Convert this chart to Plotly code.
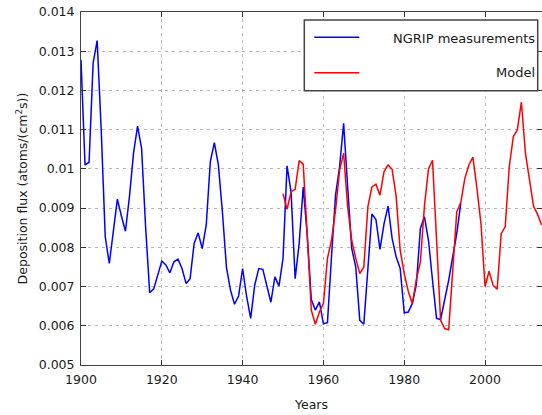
import plotly.graph_objects as go

# ---- data ----
ngrip_years = list(range(1900, 1995))
ngrip_flux = [
    0.01278, 0.0101, 0.01017, 0.0127, 0.01327, 0.0110, 0.00827, 0.00759, 0.0084, 0.00923,
    0.0088, 0.00841, 0.0093, 0.0104, 0.01109, 0.01052, 0.0085, 0.00684, 0.00694, 0.00729,
    0.00765, 0.00755, 0.00735, 0.00763, 0.0077, 0.00746, 0.00708, 0.0072, 0.0081, 0.00837,
    0.00797, 0.00857, 0.01018, 0.01067, 0.0101, 0.0089, 0.00749, 0.00691, 0.00655, 0.00676,
    0.00746, 0.00674, 0.00619, 0.00704, 0.00746, 0.00744, 0.00704, 0.0066, 0.00725, 0.00701,
    0.00772, 0.01008, 0.0094, 0.0072, 0.0081, 0.00954, 0.0083, 0.00667, 0.0064, 0.00661,
    0.00605, 0.00608, 0.00776, 0.00933, 0.01005, 0.01116, 0.00954, 0.00797, 0.0075, 0.00614,
    0.00604, 0.0074, 0.00885, 0.00871, 0.00795, 0.0086, 0.00905, 0.00823, 0.00776, 0.00746,
    0.00633, 0.00635, 0.00657, 0.00705, 0.00848, 0.00878, 0.00818, 0.00716, 0.00619, 0.00616,
    0.00665, 0.00716, 0.00776, 0.00835, 0.00912,
]

model_years = list(range(1950, 2015))
model_flux = [
    0.00937, 0.00897, 0.00942, 0.00948, 0.01021, 0.01012, 0.0083, 0.0064, 0.00604, 0.00635,
    0.00657, 0.00772, 0.00818, 0.00895, 0.00997, 0.0104, 0.00903, 0.00818, 0.00772, 0.00733,
    0.0075, 0.00903, 0.00954, 0.00961, 0.00933, 0.00993, 0.0101, 0.00999, 0.0093, 0.00793,
    0.00733, 0.00688, 0.00656, 0.00718, 0.00763, 0.00905, 0.0100, 0.01022, 0.0082, 0.00614,
    0.00593, 0.0059, 0.0074, 0.0089, 0.00914, 0.00976, 0.0101, 0.0103, 0.0095, 0.0086,
    0.0070, 0.00739, 0.00703, 0.00693, 0.00835, 0.00853, 0.01006, 0.01082, 0.011, 0.0117,
    0.0104, 0.0097, 0.00905, 0.00884, 0.00857,
]

x_ticks = [1900, 1920, 1940, 1960, 1980, 2000]
x_tick_labels = ["1900", "1920", "1940", "1960", "1980", "2000"]
y_ticks = [0.005, 0.006, 0.007, 0.008, 0.009, 0.010, 0.011, 0.012, 0.013, 0.014]
y_tick_labels = ["0.005", "0.006", "0.007", "0.008", "0.009", "0.01",
                 "0.011", "0.012", "0.013", "0.014"]
series_names = ["NGRIP measurements", "Model"]

fig = go.Figure()
fig.add_trace(go.Scatter(x=ngrip_years, y=ngrip_flux, mode="lines", name=series_names[0],
                         line=dict(color="#0000ff", width=1.5), showlegend=False))
fig.add_trace(go.Scatter(x=model_years, y=model_flux, mode="lines", name=series_names[1],
                         line=dict(color="#ff0000", width=1.5), showlegend=False))

grid_kw = dict(showgrid=True, gridcolor="#b8b8b8", griddash="3px,4px", gridwidth=1,
               showline=True, linecolor="#444444", linewidth=1, mirror="allticks",
               ticks="inside", ticklen=5, tickcolor="#333333", tickwidth=1, zeroline=False,
               automargin=False, tickfont=dict(size=12.5))

fig.update_xaxes(range=[1900, 2014.1], tickvals=x_ticks, ticktext=x_tick_labels,
                 title=dict(text="Years", standoff=14, font=dict(size=12.5)),
                 ticklabelstandoff=3, **grid_kw)
fig.update_yaxes(range=[0.005, 0.014], tickvals=y_ticks, ticktext=y_tick_labels,
                 title=dict(text="Deposition flux (atoms/(cm<sup>2</sup>s))", standoff=8,
                            font=dict(size=12.5)),
                 ticklabelstandoff=3, **grid_kw)

# legend drawn as box (paper coordinates)
shapes = [
    dict(type="rect", xref="paper", yref="paper", x0=0.4844, x1=0.9907, y0=0.777, y1=0.9773,
         fillcolor="white", line=dict(color="#444444", width=1.5), layer="above"),
    dict(type="line", xref="paper", yref="paper", x0=0.506, x1=0.6036, y0=0.9283, y1=0.9283,
         line=dict(color="#0000ff", width=1.5), layer="above"),
    dict(type="line", xref="paper", yref="paper", x0=0.506, x1=0.6036, y0=0.828, y1=0.828,
         line=dict(color="#ff0000", width=1.5), layer="above"),
]
annotations = [
    dict(text=series_names[0], xref="paper", yref="paper", x=0.9885, y=0.9255,
         xanchor="right", yanchor="middle", showarrow=False, font=dict(size=13)),
    dict(text=series_names[1], xref="paper", yref="paper", x=0.9885, y=0.8286,
         xanchor="right", yanchor="middle", showarrow=False, font=dict(size=13)),
]

fig.update_layout(
    width=542, height=415,
    margin=dict(l=81, r=0, t=12, b=50, autoexpand=False),
    plot_bgcolor="white", paper_bgcolor="white",
    font=dict(family="DejaVu Sans", size=13, color="#1a1a1a"),
    shapes=shapes, annotations=annotations, showlegend=False,
)

fig.write_html("out.html",
               config={"displayModeBar": False},
               post_script="document.body.style.margin='0px';"
                           "document.body.style.overflow='hidden';")
